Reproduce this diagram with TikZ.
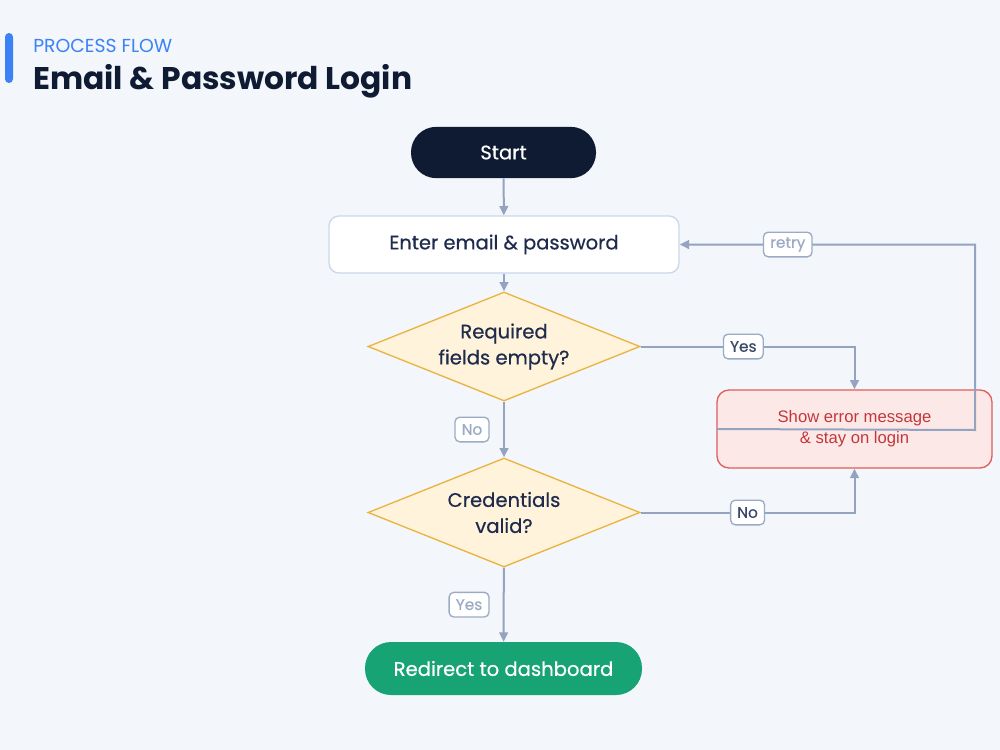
\documentclass[tikz,border=0pt]{standalone}
\usepackage{fontspec}
\setmainfont{Poppins}
\newfontfamily\pmed{Poppins}[UprightFeatures={FakeBold=0.5}]
\newfontfamily\arialfont{Liberation Sans}
\usetikzlibrary{shapes.geometric,arrows.meta,calc}
\definecolor{bg}{HTML}{F3F6FB}
\definecolor{navy}{HTML}{0F1B33}
\definecolor{txtdark}{HTML}{1F2B4D}
\definecolor{accent}{HTML}{3B82F6}
\definecolor{enterborder}{HTML}{CBD8EC}
\definecolor{dfill}{HTML}{FFF3DB}
\definecolor{dborder}{HTML}{E9B440}
\definecolor{okgreen}{HTML}{17A374}
\definecolor{errfill}{HTML}{FDE8E8}
\definecolor{errborder}{HTML}{E25C5C}
\definecolor{errtext}{HTML}{C2383A}
\definecolor{arrowc}{HTML}{94A3BF}
\definecolor{lblborder}{HTML}{9CABC5}
\definecolor{lblgray}{HTML}{9CABC5}
\definecolor{lbldark}{HTML}{3A4766}
\begin{document}
\begin{tikzpicture}[x=0.75pt,y=-0.75pt,
  term/.style={rectangle,rounded corners=19pt,minimum width=138.75pt,minimum height=38.5pt,inner sep=0pt,font=\pmed\fontsize{14.7}{17}\selectfont},
  procbox/.style={rectangle,rounded corners=7.5pt,draw=enterborder,line width=1pt,fill=white,minimum width=262.5pt,minimum height=42.75pt,inner sep=0pt,text=txtdark,font=\pmed\fontsize{14.6}{17}\selectfont},
  decision/.style={diamond,draw=dborder,line width=1pt,fill=dfill,minimum width=204pt,minimum height=81.75pt,inner sep=0pt,aspect=2.5,text=txtdark,align=center,font=\pmed\fontsize{14.7}{19.5}\selectfont},
  errbox/.style={rectangle,rounded corners=9pt,draw=errborder,line width=1pt,fill=errfill,minimum width=206.25pt,minimum height=58.5pt,inner sep=0pt,text=errtext,align=center,font=\arialfont\fontsize{12.5}{15.75}\selectfont},
  arr/.style={draw=arrowc,line width=1.5pt,-{Triangle[length=7pt,width=6.5pt]}},
  lbl/.style={rectangle,rounded corners=3.5pt,draw=lblborder,line width=1pt,fill=white,inner xsep=5pt,inner ysep=3pt,minimum height=18.5pt,font=\pmed\fontsize{11.5}{13}\selectfont},
  lblg/.style={lbl,text=lblgray},
  lbld/.style={lbl,text=lbldark}]
\fill[bg] (0,0) rectangle (1000,750);
\useasboundingbox (0,0) rectangle (1000,750);
% header
\fill[accent,rounded corners=3pt] (5,33) rectangle (13,83);
\node[anchor=base west,inner sep=0pt,text=accent,font=\fontsize{14.1}{16}\selectfont] (kicker) at (33,52) {PROCESS FLOW};
\node[anchor=base west,inner sep=0pt,text=navy,font=\fontsize{23.5}{27}\selectfont\bfseries] (title) at (33,89) {Email \& Password Login};
% nodes
\node[term,fill=navy,text=white] (start) at (503.5,152.5) {Start};
\node[procbox] (enter) at (504,244.5) {Enter email \& password};
\node[decision] (d1) at (504,346.5) {Required\\fields empty?};
\node[decision] (d2) at (504,512.5) {Credentials\\valid?};
\node[term,fill=okgreen,text=white,minimum width=207.75pt,minimum height=39.75pt,rounded corners=19.5pt] (redir) at (503.5,668.5) {Redirect to dashboard};
\node[errbox] (err) at (854.5,429) {Show error message\\\& stay on login};
% connectors
\draw[arr] (start) -- (enter);
\draw[arr] (enter) -- (d1);
\draw[arr] (d1) -- node[lblg,xshift=-24pt]{No} (d2);
\draw[arr] (d1.east) -| node[lbld,pos=0.24]{Yes} (err.north);
\draw[arr] (d2.east) -| node[lbld,pos=0.25]{No} (err.south);
\draw[arr] (d2) -- node[lblg,xshift=-26pt]{Yes} (redir);
\coordinate (turn) at (975,430);
\draw[arr] (err.west) -- (turn) |- node[lblg,pos=0.817]{retry} (enter.east);
\end{tikzpicture}
\end{document}
